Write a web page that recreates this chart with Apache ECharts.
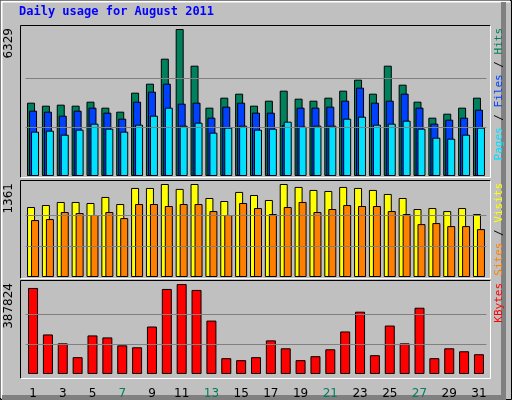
<!DOCTYPE html>
<html><head><meta charset="utf-8">
<script src="https://cdn.jsdelivr.net/npm/echarts@6/dist/echarts.min.js"></script>
<style>html,body{margin:0;padding:0;background:#c0c0c0}#c{width:512px;height:400px}</style>
</head><body><div id="c"></div>
<script>
const days = Array.from({length:31},(_,i)=>String(i+1));
const weekend = ['6','7','13','14','20','21','27','28'];
const hits  = [3157,3028,3071,3028,3200,2942,2770,3588,3975,5051,6329,4750,2942,3372,3544,3028,3243,3674,3329,3243,3372,3674,4147,3544,4750,3932,3200,2511,2683,2942,3372];
const files = [2813,2770,2597,2813,2942,2727,2468,3200,3631,3975,3114,3157,2511,2985,3157,2727,2727,2200,2942,2942,2985,3243,3803,3157,3243,3544,2942,2253,2425,2511,2856];
const pages = [1909,1952,1779,1995,2253,2038,1909,2210,2597,2942,2167,2296,1866,2081,2167,1995,2038,2339,2124,2167,2167,2468,2554,2210,2253,2382,2038,1650,1607,1779,2081];
const visits= [1024,1053,1098,1098,1083,1171,1068,1303,1303,1361,1289,1361,1156,1112,1245,1200,1127,1361,1318,1274,1259,1318,1303,1274,1215,1156,995,1009,965,1009,921];
const sites = [833,848,951,936,907,951,862,1068,1068,1039,1068,1068,965,907,1083,1009,921,1024,1098,951,995,1053,1039,1039,965,921,774,789,745,745,701];
const kbytes= [370777,170470,132116,72450,166210,157687,123592,115068,204566,366514,387824,362250,230136,68188,59665,72450,144900,110800,59665,76700,106500,183300,268500,81000,208800,132116,285500,68188,110800,98000,85200];
const maxes = [6329,1361,387824];

const ch = echarts.init(document.getElementById('c'),null,{renderer:'canvas'});
const G=[{top:29,height:147},{top:184,height:93},{top:284,height:91}];
const grids=G.map(g=>({left:25.6,right:25.6,top:g.top,height:g.height}));
const xAxes=G.map((g,i)=>({type:'category',gridIndex:i,data:days,axisLine:{show:false},axisTick:{show:false},
  axisLabel:{show:i===2,margin:14,fontFamily:'DejaVu Sans',fontSize:12,color:v=>weekend.includes(v)?'#00805c':'#000'}}));
const yAxes=G.map((g,i)=>({type:'value',gridIndex:i,min:0,max:maxes[i],show:false,splitLine:{show:false}}));
const ml=(i)=>({silent:true,symbol:'none',label:{show:false},lineStyle:{color:'#808080',type:'solid',width:1},
  data:[{yAxis:maxes[i]/3},{yAxis:maxes[i]*2/3}]});
const bs=(name,data,color,gi,w,gap,extra)=>Object.assign({type:'bar',name,data,xAxisIndex:gi,yAxisIndex:gi,barWidth:w,barGap:gap,
  itemStyle:{color,borderColor:'#000',borderWidth:1},animation:false,z:3},extra||{});
const lines=[];
function frame(x1,y1,x2,y2){
  lines.push({type:'line',shape:{x1,y1,x2:x2,y2:y1},style:{stroke:'#000',lineWidth:1}});
  lines.push({type:'line',shape:{x1,y1,x2:x1,y2},style:{stroke:'#000',lineWidth:1}});
  lines.push({type:'line',shape:{x1:x2,y1,x2,y2},style:{stroke:'#fff',lineWidth:1}});
  lines.push({type:'line',shape:{x1,y1:y2,x2,y2},style:{stroke:'#fff',lineWidth:1}});
}
frame(20.5,25.5,490.5,177.5);frame(20.5,180.5,490.5,278.5);frame(20.5,280.5,490.5,378.5);
const vtext=(x,y,rich,text)=>({type:'text',x,y,rotation:Math.PI/2,style:{text,rich,fontFamily:'DejaVu Sans Mono',fontSize:11,align:'right',verticalAlign:'middle'}});
ch.setOption({
  backgroundColor:'#c0c0c0',
  grid:grids,xAxis:xAxes,yAxis:yAxes,
  series:[
    bs('Hits',hits,'#00805c',0,8,'-75%',{markLine:ml(0)}),
    bs('Files',files,'#0040ff',0,8,'-75%'),
    bs('Pages',pages,'#00e0ff',0,8,'-75%'),
    bs('Visits',visits,'#ffff00',1,8,'-50%',{markLine:ml(1)}),
    bs('Sites',sites,'#ff8000',1,8,'-50%'),
    bs('KBytes',kbytes,'#ff0000',2,10,'0%',{markLine:ml(2)})
  ],
  graphic:[
    {type:'rect',shape:{x:0.5,y:0.5,width:511,height:399},style:{fill:'none',stroke:'#000'},z:-1},
    {type:'polyline',shape:{points:[[1.5,398],[1.5,1.5],[510,1.5]]},style:{stroke:'#fff',lineWidth:2,fill:null}},
    {type:'polyline',shape:{points:[[2,397.5],[503.5,397.5],[503.5,2]]},style:{stroke:'#808080',lineWidth:5,fill:null}},
    {type:'text',x:19,y:6,style:{text:'Daily usage for August 2011',fontFamily:'DejaVu Sans Mono',fontWeight:'bold',fontSize:12,fill:'#0000ff'}},
    ...lines,
    {type:'text',x:9,y:28,rotation:Math.PI/2,style:{text:'6329',fontFamily:'DejaVu Sans',fontSize:12,fill:'#000',align:'right',verticalAlign:'middle'}},
    {type:'text',x:9,y:183,rotation:Math.PI/2,style:{text:'1361',fontFamily:'DejaVu Sans',fontSize:12,fill:'#000',align:'right',verticalAlign:'middle'}},
    {type:'text',x:9,y:283,rotation:Math.PI/2,style:{text:'387824',fontFamily:'DejaVu Sans',fontSize:12,fill:'#000',align:'right',verticalAlign:'middle'}},
    {type:'text',x:499,y:28,rotation:Math.PI/2,style:{rich:{p:{fill:'#00e0ff'},f:{fill:'#0040ff'},h:{fill:'#00805c'},s:{fill:'#000'}},
      text:'{p|Pages}{s| / }{f|Files}{s| / }{h|Hits}',fontFamily:'DejaVu Sans Mono',fontSize:11,align:'right',verticalAlign:'middle'}},
    {type:'text',x:499,y:183,rotation:Math.PI/2,style:{rich:{a:{fill:'#ff8000'},b:{fill:'#ffff00'},s:{fill:'#000'}},
      text:'{a|Sites}{s| / }{b|Visits}',fontFamily:'DejaVu Sans Mono',fontSize:11,align:'right',verticalAlign:'middle'}},
    {type:'text',x:499,y:283,rotation:Math.PI/2,style:{text:'KBytes',fill:'#ff0000',fontFamily:'DejaVu Sans Mono',fontSize:11,align:'right',verticalAlign:'middle'}}
  ]
});
</script></body></html>
